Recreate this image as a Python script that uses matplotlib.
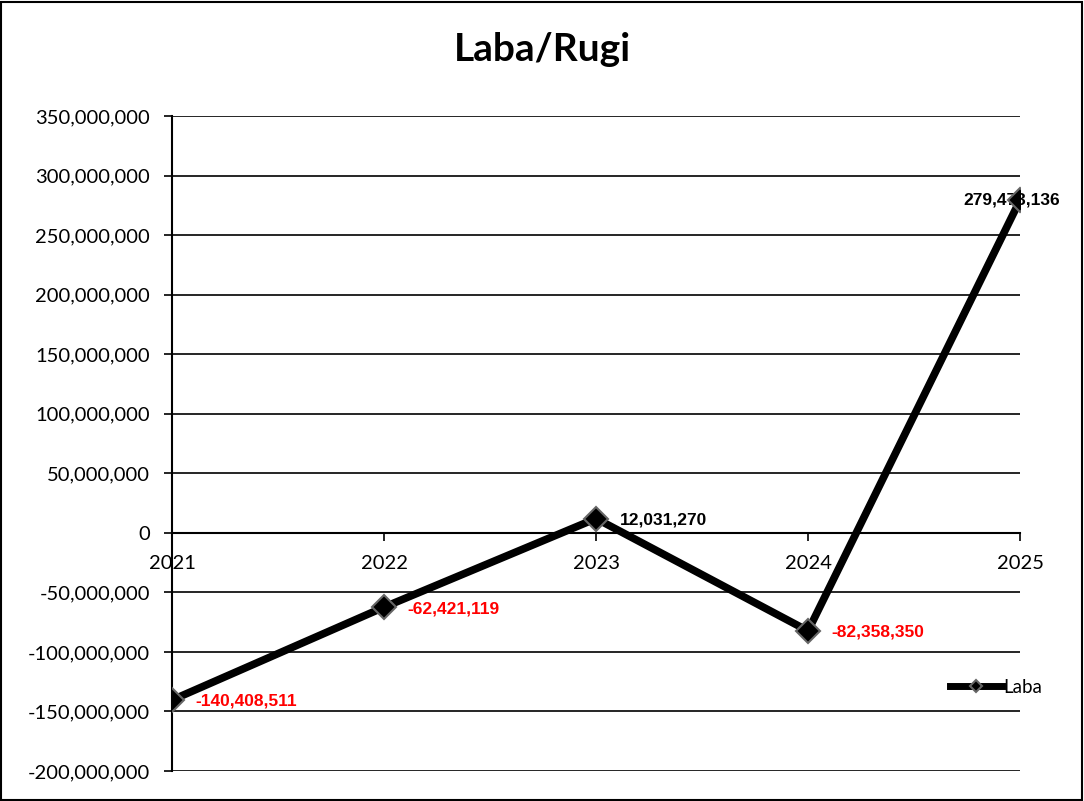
import numpy as np
import matplotlib.pyplot as plt
from matplotlib.patches import Rectangle
from matplotlib.lines import Line2D
from matplotlib.ticker import FuncFormatter

years = ["2021", "2022", "2023", "2024", "2025"]
laba = [-140408511, -62421119, 12031270, -82358350, 279473136]
y_ticks = [-200000000, -150000000, -100000000, -50000000, 0,
           50000000, 100000000, 150000000, 200000000, 250000000,
           300000000, 350000000]

plt.rcParams['font.family'] = ['Lato', 'DejaVu Sans']

fig = plt.figure(figsize=(10.84, 8.01), dpi=100)
fig.patches.append(Rectangle((0.001, 0.001), 0.997, 0.997, transform=fig.transFigure,
                             fill=False, edgecolor='black', linewidth=1.5))
ax = fig.add_axes([0.1587, 0.0375, 0.7823, 0.8175])

x = np.arange(len(years))
ax.plot(x, laba, color='black', linewidth=5.5, marker='D', markersize=12,
        markerfacecolor='black', markeredgecolor='#666666', markeredgewidth=1.5,
        zorder=4, solid_capstyle='round')

for i, (xi, v) in enumerate(zip(x, laba)):
    col = 'red' if v < 0 else 'black'
    if i == len(laba) - 1:
        off, ha = (-6, 0), 'center'
    else:
        off, ha = (17, -1), 'left'
    ax.annotate(f"{v:,}", (xi, v), xytext=off, textcoords='offset points',
                ha=ha, va='center', fontsize=12.5, fontweight='bold', color=col,
                family=['Liberation Sans', 'DejaVu Sans'], zorder=3)

ax.set_ylim(-200000000, 350000000)
ax.set_xlim(0, len(years) - 1)
ax.set_yticks(y_ticks)
ax.yaxis.set_major_formatter(FuncFormatter(lambda v, p: f"{int(v):,}"))
ax.tick_params(axis='y', labelsize=14.5, length=6, width=1.2, direction='out', pad=10)
ax.grid(axis='y', color='black', linewidth=1.2)
ax.set_axisbelow(True)

ax.set_xticks(x)
ax.set_xticklabels(years)
ax.spines['bottom'].set_position(('data', 0))
ax.spines['bottom'].set_linewidth(1.5)
ax.spines['left'].set_linewidth(1.5)
ax.tick_params(axis='x', labelsize=14.5, length=6, width=1.2, direction='out', pad=10)
ax.spines['top'].set_visible(False)
ax.spines['right'].set_visible(False)

fig.suptitle("Laba/Rugi", x=0.5, y=0.938, va='center', fontsize=28, fontweight='bold')

handle = Line2D([], [], color='black', linewidth=5, marker='D', markersize=6,
                markerfacecolor='black', markeredgecolor='#666666', markeredgewidth=1.5)
ax.legend([handle], ['Laba'], loc='center left', bbox_to_anchor=(0.917, 0.128),
          frameon=False, fontsize=13.5, handlelength=2.8, handletextpad=0.05,
          borderaxespad=0, borderpad=0)

fig.savefig("out.png", dpi=100)
